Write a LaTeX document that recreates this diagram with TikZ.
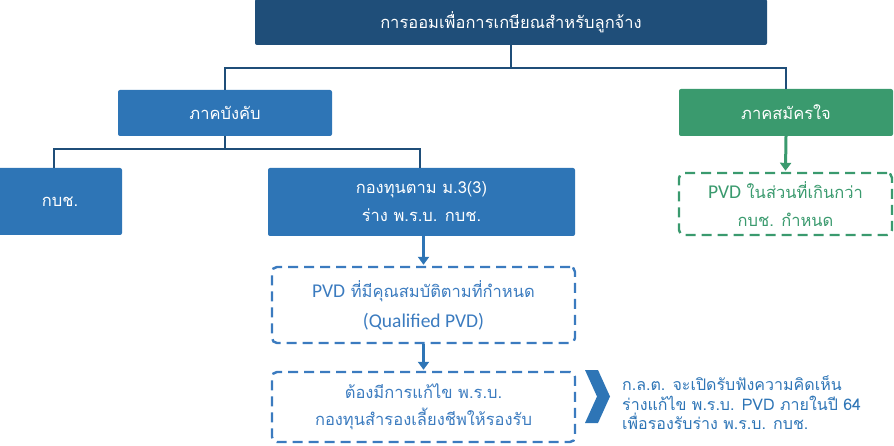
\documentclass[tikz,border=0pt]{standalone}
\usepackage{fontspec}
\usetikzlibrary{arrows.meta}
\newfontfamily\thai[Script=Thai]{Loma}
\newfontfamily\latinf{Carlito}
\newcommand{\lat}[1]{{\latinf\fontsize{19.5}{20}\selectfont #1}}
\definecolor{navy}{HTML}{1F4E79}
\definecolor{mblue}{HTML}{2E75B6}
\definecolor{mgreen}{HTML}{3A9A6E}
\definecolor{tblue}{HTML}{3B7BBF}
\begin{document}
\begin{tikzpicture}[x=1pt,y=-1pt,
  solidbox/.style={rectangle,rounded corners=2pt,text=white,font=\thai\fontsize{16.5}{28}\selectfont,align=center,inner sep=0pt},
  dashbox/.style={rectangle,rounded corners=5pt,draw=#1,line width=2.4pt,dash pattern=on 10pt off 6pt,text=#1,font=\thai\fontsize{16.5}{28}\selectfont,align=center,inner sep=0pt},
  conn/.style={draw=navy,line width=2pt},
  arr/.style={draw=#1,line width=3pt,-{Triangle[width=11pt,length=8pt]}}]
\useasboundingbox (0,0) rectangle (894,446);
\node[solidbox,fill=navy,minimum width=512pt,minimum height=46pt] (top) at (511,22) {การออมเพื่อการเกษียณสำหรับลูกจ้าง};
\node[solidbox,fill=mblue,minimum width=214pt,minimum height=46pt] (comp) at (225,113) {ภาคบังคับ};
\node[solidbox,fill=mgreen,minimum width=214pt,minimum height=47pt] (vol) at (786,112.5) {ภาคสมัครใจ};
\node[solidbox,fill=mblue,minimum width=124pt,minimum height=67pt] (kbch) at (60,201.5) {กบช.};
\node[solidbox,fill=mblue,minimum width=307pt,minimum height=68pt] (fund) at (421.5,202) {กองทุนตาม ม.3(3)\\ร่าง พ.ร.บ. กบช.};
\node[dashbox=mgreen,minimum width=213pt,minimum height=62pt] (pvdx) at (785.5,204) {\lat{PVD} ในส่วนที่เกินกว่า\\กบช. กำหนด};
\node[dashbox=tblue,minimum width=303pt,minimum height=76pt,font=\thai\fontsize{16.5}{30}\selectfont] (qpvd) at (423.5,305) {\lat{PVD} ที่มีคุณสมบัติตามที่กำหนด\\\lat{(Qualified PVD)}};
\node[dashbox=tblue,minimum width=303pt,minimum height=70pt,font=\thai\fontsize{16.5}{27}\selectfont] (amend) at (423.5,407) {ต้องมีการแก้ไข พ.ร.บ.\\กองทุนสำรองเลี้ยงชีพให้รองรับ};
\node[anchor=west,text=mblue,font=\thai\fontsize{16}{19.5}\selectfont,align=left,inner sep=0pt] (note) at (622,403) {ก.ล.ต. จะเปิดรับฟังความคิดเห็น\\ร่างแก้ไข พ.ร.บ. PVD ภายในปี 64\\เพื่อรองรับร่าง พ.ร.บ. กบช.};
\coordinate (j1) at (511,68);
\coordinate (j2) at (225,149);
\path[conn] (top.south) -- (j1) -| (comp.north);
\path[conn] (j1) -| (vol.north);
\path[conn] (comp.south) -- (j2) -| ([xshift=-6pt]kbch.north);
\path[conn] (j2) -| ([xshift=-2pt]fund.north);
\path[arr=mgreen] (vol.south) -- ([yshift=1pt]pvdx.north);
\path[arr=mblue] ([xshift=2pt]fund.south) -- ([yshift=1pt]qpvd.north);
\path[arr=mblue] (qpvd.south) -- ([yshift=1pt]amend.north);
\fill[mblue] (585,370) -- (598,370) -- (610,396.5) -- (598,423) -- (585,423) -- (597,396.5) -- cycle;
\end{tikzpicture}
\end{document}
